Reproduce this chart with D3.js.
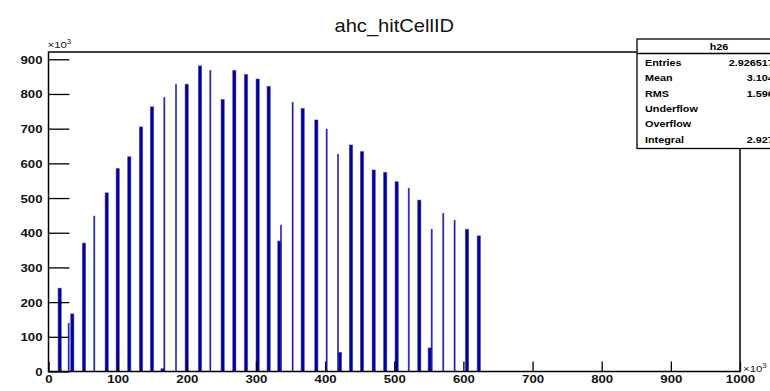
<!DOCTYPE html>
<html>
<head>
<meta charset="utf-8">
<script src="https://cdn.jsdelivr.net/npm/d3@7"></script>
<style>
  body { margin: 0; background: #fff; }
  svg { display: block; }
  text { font-family: "Liberation Sans", Arial, Helvetica, sans-serif; }
</style>
</head>
<body>
<script>
// ---- histogram content: AHCAL hit cell IDs (x and counts both in units of 10^3) ----
const histName  = "h26";
const histTitle = "ahc_hitCellID";

// lower / upper edge of each filled cell-ID group, and its number of hits
const binLo = [13.9, 28.4, 32.1, 49.0, 65.4, 81.9, 97.8, 114.5, 131.5, 147.4, 162.6, 166.7,
               183.6, 197.6, 216.8, 233.2, 249.6, 266.4, 283.3, 300.2, 316.1, 331.5, 335.4,
               352.3, 365.3, 385.0, 401.5, 417.9, 419.2, 435.2, 451.1, 468.0, 484.6, 501.2,
               520.2, 533.9, 549.0, 553.4, 570.1, 586.5, 602.9, 620.0];
const binHi = [18.5, 30.0, 36.7, 53.6, 67.0, 86.5, 102.4, 119.1, 136.1, 152.0, 167.2, 168.3,
               185.2, 202.2, 221.4, 234.8, 254.2, 271.0, 287.9, 304.8, 320.7, 336.1, 337.0,
               353.9, 369.9, 389.6, 403.1, 419.5, 423.8, 439.8, 455.7, 472.6, 489.2, 505.8,
               521.8, 538.5, 553.6, 555.0, 571.7, 588.1, 607.5, 624.6];
const hits  = [240, 139, 166, 370, 448, 515, 585, 619, 705, 763, 8, 790,
               828, 828, 881, 868, 784, 868, 856, 843, 822, 376, 422,
               776, 758, 725, 699, 626, 55, 653, 634, 581, 574, 547,
               528, 494, 68, 410, 456, 436, 410, 391];

// axis ranges and tick steps (units of 10^3)
const xRange = [0, 1000];
const yRange = [0, 921];
const xMajorStep = 100, xMinorStep = 20;
const yMajorStep = 100, yMinorStep = 20;

// statistics box
const statLabels = ["Entries", "Mean", "RMS", "Underflow", "Overflow", "Integral"];
const statValues = ["2.926517e+07", "3.104e+05", "1.596e+05", "0", "0", "2.927e+07"];

// ---- drawing ----
const W = 770, H = 391;
const frame = { left: 48.5, right: 740, top: 52, bottom: 371.5 };
const STRETCH = 1.2;   // glyphs are drawn slightly widened
const barColor = "#000099";

const svg = d3.select("body").append("svg")
  .attr("width", W).attr("height", H);

const x = d3.scaleLinear().domain(xRange).range([frame.left, frame.right]);
const y = d3.scaleLinear().domain(yRange).range([frame.bottom, frame.top]);

// histogram bars (outline drawn in a lighter tone of the same blue)
const bins = hits.map((v, i) => ({ lo: binLo[i], hi: binHi[i], v }));
svg.append("g").selectAll("rect").data(bins).join("rect")
  .attr("x", d => x(d.lo))
  .attr("width", d => x(d.hi) - x(d.lo))
  .attr("y", d => y(d.v))
  .attr("height", d => y(0) - y(d.v))
  .attr("fill", barColor)
  .attr("stroke", "#2a2ab8")
  .attr("stroke-opacity", 0.55)
  .attr("stroke-width", 0.9);

// helper: widen the glyphs of a text selection around its anchor
function widen(sel, dx) {
  sel.each(function () {
    const t = d3.select(this);
    t.attr("x", 0).attr("transform", `translate(${dx},0) scale(${STRETCH},1)`);
  });
}

// x axis: ticks point up into the frame
const xMajor = d3.range(xRange[0], xRange[1] + 1, xMajorStep);
const xMinor = d3.range(xRange[0], xRange[1] + 1, xMinorStep).filter(v => v % xMajorStep !== 0);
const gx = svg.append("g").attr("transform", `translate(0,${frame.bottom})`);
gx.call(d3.axisBottom(x).tickValues(xMinor).tickSize(-5).tickFormat(""));
gx.call(d3.axisBottom(x).tickValues(xMajor).tickSizeInner(-10).tickSizeOuter(0).tickPadding(3).tickFormat(d3.format("d")));
gx.selectAll(".domain").remove();
gx.selectAll("line").attr("stroke", "#000").attr("stroke-width", 1.3);
gx.selectAll("text")
  .attr("font-size", 11).attr("font-weight", "bold").attr("fill", "#111")
  .attr("dy", null).attr("y", 12);
widen(gx.selectAll("text"), 0);

// y axis: ticks point right into the frame
const yMajor = d3.range(yRange[0], yRange[1] + 1, yMajorStep);
const yMinor = d3.range(yRange[0], yRange[1] + 1, yMinorStep).filter(v => v % yMajorStep !== 0);
const gy = svg.append("g").attr("transform", `translate(${frame.left},0)`);
gy.call(d3.axisLeft(y).tickValues(yMinor).tickSize(-10.5).tickFormat(""));
gy.call(d3.axisLeft(y).tickValues(yMajor).tickSizeInner(-21).tickSizeOuter(0).tickPadding(6).tickFormat(d3.format("d")));
gy.selectAll(".domain").remove();
gy.selectAll("line").attr("stroke", "#000").attr("stroke-width", 1.3);
gy.selectAll("text")
  .attr("font-size", 11).attr("font-weight", "bold").attr("fill", "#111")
  .attr("dy", "0.36em");
widen(gy.selectAll("text"), -6);

// frame
svg.append("rect")
  .attr("x", frame.left).attr("y", frame.top)
  .attr("width", frame.right - frame.left).attr("height", frame.bottom - frame.top)
  .attr("fill", "none").attr("stroke", "#000").attr("stroke-width", 1.5);

// "x10^3" multipliers
function multiplier(px, py) {
  const t = svg.append("text")
    .attr("transform", `translate(${px},${py}) scale(${STRETCH},1)`)
    .attr("font-size", 9.5).attr("fill", "#222");
  t.append("tspan").text("\u00d710");
  t.append("tspan").attr("dy", -4).attr("font-size", 6.5).text("3");
}
multiplier(frame.left - 1, 48);
multiplier(frame.right + 3, 372);

// title
svg.append("text")
  .attr("transform", `translate(${(frame.left + frame.right) / 2},32) scale(1.15,1)`)
  .attr("text-anchor", "middle").attr("font-size", 17.5).attr("fill", "#111")
  .text(histTitle);

// statistics box (extends past the right edge of the canvas)
const box = { left: 637, top: 39, right: 805, bottom: 148.5, header: 53.5 };
const gs = svg.append("g");
gs.append("rect")
  .attr("x", box.left).attr("y", box.top)
  .attr("width", box.right - box.left).attr("height", box.bottom - box.top)
  .attr("fill", "#fff").attr("stroke", "#000").attr("stroke-width", 1.3);
gs.append("line")
  .attr("x1", box.left).attr("x2", box.right)
  .attr("y1", box.header).attr("y2", box.header)
  .attr("stroke", "#000").attr("stroke-width", 1.3);
gs.append("text")
  .attr("transform", `translate(${(box.left + box.right) / 2 - 2},50) scale(${STRETCH},1)`)
  .attr("text-anchor", "middle").attr("font-size", 9).attr("font-weight", "bold")
  .text(histName);

const rowY = d3.scaleLinear().domain([0, statLabels.length - 1]).range([66, 142.5]);
statLabels.forEach((lab, i) => {
  gs.append("text")
    .attr("transform", `translate(${box.left + 8},${rowY(i)}) scale(${STRETCH},1)`)
    .attr("font-size", 9).attr("font-weight", "bold").text(lab);
  gs.append("text")
    .attr("transform", `translate(${box.right - 7},${rowY(i)}) scale(${STRETCH},1)`)
    .attr("text-anchor", "end").attr("font-size", 9).attr("font-weight", "bold")
    .text(statValues[i]);
});
</script>
</body>
</html>
